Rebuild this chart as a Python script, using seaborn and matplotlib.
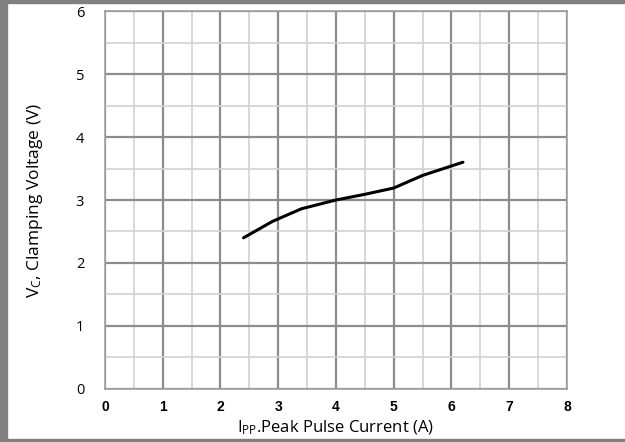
import matplotlib
matplotlib.use("Agg")
import matplotlib.pyplot as plt
import matplotlib.patches as mpatches
from matplotlib.ticker import MultipleLocator
import seaborn as sns
import pandas as pd

# Clamping voltage vs peak pulse current
current_a = [2.4, 2.9, 3.4, 4.0, 4.5, 5.0, 5.5, 6.2]
clamp_v = [2.4, 2.66, 2.86, 3.0, 3.09, 3.19, 3.39, 3.6]
x_ticks = [0, 1, 2, 3, 4, 5, 6, 7, 8]
y_ticks = [0, 1, 2, 3, 4, 5, 6]

df = pd.DataFrame({'ipp': current_a, 'vc': clamp_v})

sns.set_style('white')
plt.rcParams['font.family'] = ['Open Sans', 'DejaVu Sans']
plt.rcParams['text.color'] = 'black'
plt.rcParams['axes.labelcolor'] = 'black'
plt.rcParams['xtick.color'] = 'black'
plt.rcParams['ytick.color'] = 'black'

fig = plt.figure(figsize=(6.25, 4.42), dpi=100)
ax = fig.add_axes([0.168, 0.120, 0.739, 0.855])

sns.lineplot(data=df, x='ipp', y='vc', ax=ax, color='black', linewidth=2.2)

ax.set_xlim(0, 8)
ax.set_ylim(0, 6)
ax.set_xticks(x_ticks)
ax.set_yticks(y_ticks)
ax.xaxis.set_minor_locator(MultipleLocator(0.5))
ax.yaxis.set_minor_locator(MultipleLocator(0.5))
ax.grid(which='major', color='#8c8c8c', linewidth=1.6)
ax.grid(which='minor', color='#d2d2d2', linewidth=1.2)
ax.set_axisbelow(True)
ax.tick_params(which='both', length=0)
ax.tick_params(axis='x', pad=8, labelsize=10)
ax.tick_params(axis='y', pad=15, labelsize=10.5)
for lab in ax.get_xticklabels():
    lab.set_fontweight('bold')
    lab.set_family(['Liberation Sans', 'DejaVu Sans'])
for sp in ax.spines.values():
    sp.set_color('#a0a0a0')
    sp.set_linewidth(1.2)

ax.set_xlabel(r'I$\mathregular{_{PP}}$.Peak Pulse Current (A)', fontsize=12, labelpad=3)
ax.set_ylabel(r'V$\mathregular{_C}$, Clamping Voltage (V)', fontsize=12.5, labelpad=22)

# gray frame around the picture
fig.patches.append(mpatches.Rectangle((0, 0), 0.011, 1, transform=fig.transFigure,
                                      color='#808080', zorder=-1))
fig.patches.append(mpatches.Rectangle((0, 0.993), 1, 0.007, transform=fig.transFigure,
                                      color='#808080', zorder=-1))
fig.patches.append(mpatches.Rectangle((0, 0), 1, 0.007, transform=fig.transFigure,
                                      color='#808080', zorder=-1))

fig.savefig('out.png', dpi=100)
